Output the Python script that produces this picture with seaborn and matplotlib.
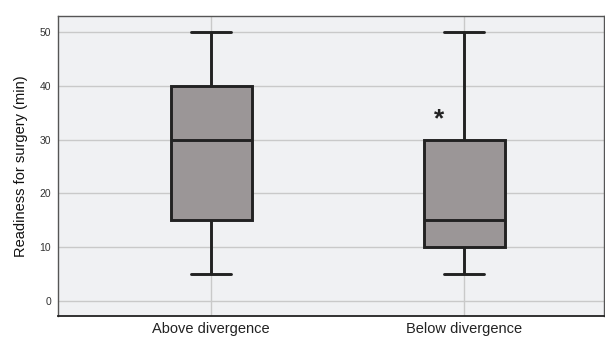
import numpy as np
import pandas as pd
import seaborn as sns
import matplotlib.pyplot as plt

# five-number summaries (min, Q1, median, Q3, max)
groups = ["Above divergence", "Below divergence"]
above_vals = [5, 15, 30, 40, 50]
below_vals = [5, 10, 15, 30, 50]
yticks = [0, 10, 20, 30, 40, 50]

df = pd.DataFrame({
    "group": [groups[0]] * len(above_vals) + [groups[1]] * len(below_vals),
    "minutes": above_vals + below_vals,
})

sns.set_style("whitegrid")
plt.rcParams["font.family"] = ["Liberation Sans", "DejaVu Sans"]

fig = plt.figure(figsize=(6.05, 3.39), dpi=100)
ax = fig.add_axes([58 / 605, 1 - 316 / 339, 546 / 605, 300 / 339])
ax.set_facecolor("#f0f1f3")

sns.boxplot(data=df, x="group", y="minutes", ax=ax, width=0.32,
            color="#9b9697", saturation=1, linecolor="#222222",
            linewidth=2.1, whis=1.5, showfliers=False)

# significance mark
ax.text(0.9, 33.8, "*", ha="center", va="center", fontsize=19,
        fontweight="bold", color="#222222")

ax.set_xlim(-0.605, 1.553)
ax.set_ylim(-2.8, 53)
ax.set_yticks(yticks)
ax.set_ylabel("Readiness for surgery (min)", fontsize=10.5, color="#111111",
              labelpad=8)
ax.set_xlabel("")
ax.tick_params(axis="y", labelsize=7.5, length=0, pad=5, labelcolor="#333333")
ax.tick_params(axis="x", labelsize=10.5, length=0, pad=4, labelcolor="#222222")
ax.grid(True, axis="both", color="#c9c9c9", linewidth=1)
ax.set_axisbelow(True)
for s in ["left", "top", "right"]:
    ax.spines[s].set_color("#555555")
    ax.spines[s].set_linewidth(1)
ax.spines["bottom"].set_color("#222222")
ax.spines["bottom"].set_linewidth(1.3)

plt.savefig("out.png", dpi=100)
